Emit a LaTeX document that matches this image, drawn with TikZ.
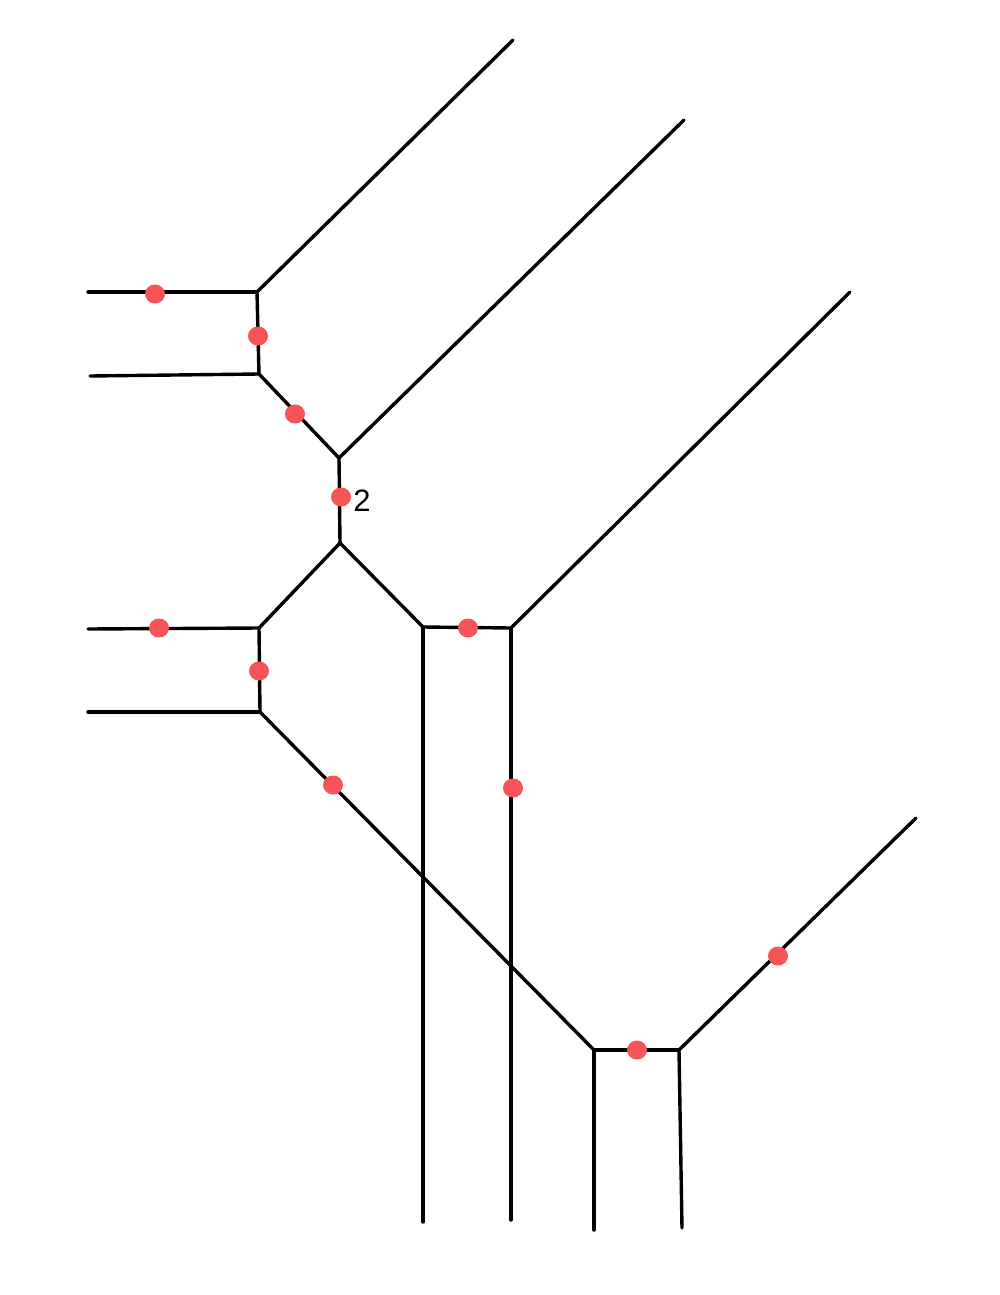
\documentclass[tikz,border=0pt]{standalone}
\usepackage{fontspec}
\setmainfont{Liberation Sans}
\usetikzlibrary{shapes.geometric}
\definecolor{dotred}{HTML}{F65456}
\begin{document}
\begin{tikzpicture}[x=1pt,y=-1pt,
  edge/.style={line width=3.4pt,line cap=round,line join=round},
  dot/.style={fill=dotred,draw=none,ellipse,minimum width=20pt,minimum height=19pt,inner sep=0pt},
  lbl/.style={font=\fontsize{31}{31}\selectfont,inner sep=0pt}]
\useasboundingbox (0,0) rectangle (1000,1295);
% coordinates
\coordinate (a1) at (88,292);
\coordinate (A) at (257,292);
\coordinate (a2) at (513,40);
\coordinate (b1) at (90,376);
\coordinate (B) at (259,374);
\coordinate (C) at (339,458);
\coordinate (c2) at (684,120);
\coordinate (D) at (340,543);
\coordinate (E) at (259,628);
\coordinate (e1) at (88,629);
\coordinate (F) at (260,712);
\coordinate (f1) at (88,712);
\coordinate (G) at (423,627);
\coordinate (H) at (511,628);
\coordinate (h2) at (850,292);
\coordinate (g2) at (423,1222);
\coordinate (h3) at (511,1220);
\coordinate (I) at (594,1050);
\coordinate (J) at (679,1050);
\coordinate (j2) at (916,818);
\coordinate (i2) at (594,1230);
\coordinate (j3) at (682,1228);
% edges
\draw[edge] (a1) -- (A);
\draw[edge] (A) -- (a2);
\draw[edge] (A) -- (B);
\draw[edge] (b1) -- (B);
\draw[edge] (B) -- (C);
\draw[edge] (C) -- (c2);
\draw[edge] (C) -- (D);
\draw[edge] (D) -- (E);
\draw[edge] (e1) -- (E);
\draw[edge] (E) -- (F);
\draw[edge] (f1) -- (F);
\draw[edge] (F) -- (I);
\draw[edge] (D) -- (G);
\draw[edge] (G) -- (H);
\draw[edge] (H) -- (h2);
\draw[edge] (G) -- (g2);
\draw[edge] (H) -- (h3);
\draw[edge] (I) -- (J);
\draw[edge] (J) -- (j2);
\draw[edge] (I) -- (i2);
\draw[edge] (J) -- (j3);
% dots
\node[dot] (d1) at (155,294) {};
\node[dot] (d2) at (258,336) {};
\node[dot] (d3) at (295,414) {};
\node[dot] (d4) at (341,497) {};
\node[dot] (d5) at (159,628) {};
\node[dot] (d6) at (259,671) {};
\node[dot] (d7) at (333,785) {};
\node[dot] (d8) at (468,628) {};
\node[dot] (d9) at (513,788) {};
\node[dot] (d10) at (637,1050) {};
\node[dot] (d11) at (778,956) {};
\node[lbl] (l2) at (362,501) {2};
\end{tikzpicture}
\end{document}
